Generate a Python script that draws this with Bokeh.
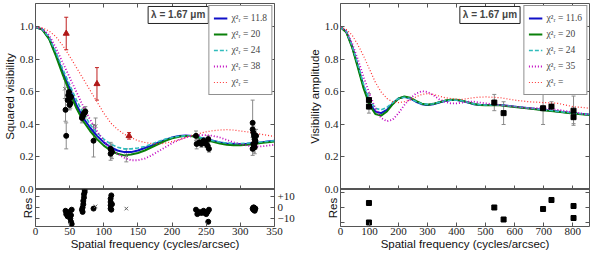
from bokeh.plotting import figure
from bokeh.models import (Range1d, LinearAxis, FixedTicker, CustomJSTickFormatter, Span, Label,
                          Legend, LegendItem, Whisker, TeeHead, ColumnDataSource)
from bokeh.layouts import row, column
from bokeh.embed import file_html
from bokeh.resources import INLINE

# ---------------- data : left panel (squared visibility) ----------------
l_freq = [0, 10, 20, 30, 40, 50, 60, 70, 80, 90, 100, 110, 120, 130, 140, 150, 160, 170, 180,
          190, 200, 210, 220, 230, 240, 250, 260, 270, 280, 290, 300, 310, 320, 330, 340, 350]
l_blue = [1.0, 0.985, 0.93, 0.83, 0.72, 0.62, 0.52, 0.44, 0.38, 0.33, 0.29, 0.26, 0.24, 0.23,
          0.23, 0.24, 0.255, 0.27, 0.29, 0.305, 0.32, 0.33, 0.333, 0.33, 0.32, 0.31, 0.30, 0.29,
          0.283, 0.28, 0.28, 0.282, 0.286, 0.29, 0.295, 0.30]
l_green = [1.0, 0.984, 0.925, 0.82, 0.705, 0.60, 0.50, 0.42, 0.36, 0.31, 0.27, 0.24, 0.22, 0.21,
           0.215, 0.225, 0.24, 0.26, 0.28, 0.30, 0.315, 0.325, 0.33, 0.328, 0.318, 0.305, 0.293,
           0.283, 0.276, 0.272, 0.272, 0.275, 0.28, 0.286, 0.29, 0.295]
l_cyan = [1.0, 0.986, 0.935, 0.845, 0.74, 0.645, 0.55, 0.47, 0.40, 0.35, 0.31, 0.28, 0.26, 0.25,
          0.25, 0.255, 0.265, 0.28, 0.295, 0.31, 0.32, 0.328, 0.33, 0.328, 0.32, 0.31, 0.30,
          0.292, 0.286, 0.283, 0.283, 0.285, 0.288, 0.292, 0.296, 0.30]
l_magenta = [1.0, 0.988, 0.95, 0.87, 0.78, 0.69, 0.60, 0.51, 0.43, 0.36, 0.30, 0.25, 0.22, 0.195,
             0.18, 0.18, 0.19, 0.21, 0.235, 0.26, 0.285, 0.305, 0.32, 0.33, 0.335, 0.335, 0.33,
             0.32, 0.305, 0.29, 0.28, 0.27, 0.265, 0.265, 0.27, 0.275]
l_red = [1.0, 0.995, 0.975, 0.94, 0.885, 0.82, 0.75, 0.68, 0.61, 0.54, 0.47, 0.41, 0.37, 0.34,
         0.32, 0.30, 0.29, 0.283, 0.28, 0.285, 0.295, 0.305, 0.32, 0.335, 0.345, 0.355, 0.362,
         0.366, 0.368, 0.366, 0.36, 0.355, 0.348, 0.34, 0.333, 0.326]
l_chi2 = ["11.8", "20", "24", "38", ""]

l_obs_x = [44, 45, 47, 48, 49, 50, 51, 52, 50, 68, 69, 70, 71, 72, 73, 85, 110, 111, 112, 110,
           235, 236, 240, 243, 246, 248, 250, 252, 253, 254,
           318, 318, 319, 320, 321, 322, 319, 320, 321, 322, 318, 323]
l_obs_y = [0.49, 0.33, 0.55, 0.58, 0.60, 0.56, 0.53, 0.57, 0.52, 0.44, 0.45, 0.46, 0.47, 0.47, 0.48,
           0.30, 0.25, 0.24, 0.23, 0.22,
           0.33, 0.28, 0.29, 0.28, 0.30, 0.29, 0.28, 0.27, 0.31, 0.25,
           0.41, 0.37, 0.35, 0.33, 0.31, 0.29, 0.28, 0.27, 0.26, 0.30, 0.25, 0.33]
l_obs_err = [0.07, 0.08, 0.03, 0.03, 0.03, 0.03, 0.03, 0.03, 0.03, 0.03, 0.03, 0.03, 0.03, 0.03, 0.03,
             0.10, 0.04, 0.04, 0.04, 0.04,
             0.03, 0.03, 0.02, 0.02, 0.02, 0.02, 0.02, 0.02, 0.02, 0.02,
             0.14, 0.05, 0.04, 0.04, 0.04, 0.04, 0.04, 0.04, 0.04, 0.04, 0.04, 0.04]
l_grey_x = [43, 88, 133]
l_grey_y = [0.62, 0.39, 0.21]
l_grey_err = [0.06, 0.05, 0.04]
l_red_x = [45, 90, 137]
l_red_y = [0.96, 0.65, 0.33]
l_red_err = [0.10, 0.10, 0.02]

l_res_x = [44, 45, 46, 47, 50, 51, 52, 53, 52, 53, 68, 69, 70, 70, 71, 71, 72, 72, 69, 85,
           110, 110, 110, 110, 111, 111, 112, 235, 237, 240, 243, 246, 248, 250, 252, 253, 254,
           318, 319, 320, 321, 322, 320, 319, 321]
l_res_y = [-3, -6, -5, -8, -4, -10, -13, -15, -7, -2, -2, 0, 3, 6, 9, 12, 14, 16, -4, -1,
           -1, 2, 5, 8, 11, -2, 3, -2, -6, -4, -5, -3, -5, -6, -4, -13, -2,
           -1, -2, 0, -3, -1, -2, 0, -1]
l_res_grey_x = [88, 133]
l_res_grey_y = [1, -1]

# ---------------- data : right panel (visibility amplitude) ----------------
r_freq = [0, 20, 40, 60, 80, 100, 120, 140, 160, 180, 200, 220, 240, 260, 280, 300, 320, 340,
          360, 380, 400, 420, 440, 460, 480, 500, 550, 600, 650, 700, 750, 800, 860]
r_blue = [1.0, 0.97, 0.88, 0.76, 0.63, 0.53, 0.48, 0.47, 0.49, 0.53, 0.56, 0.57, 0.56, 0.54,
          0.525, 0.52, 0.525, 0.535, 0.545, 0.55, 0.55, 0.545, 0.535, 0.525, 0.52, 0.52, 0.52,
          0.51, 0.50, 0.49, 0.48, 0.47, 0.46]
r_green = [1.0, 0.968, 0.875, 0.75, 0.62, 0.52, 0.465, 0.455, 0.48, 0.525, 0.56, 0.572, 0.565,
           0.545, 0.528, 0.522, 0.527, 0.537, 0.547, 0.552, 0.552, 0.546, 0.536, 0.526, 0.52,
           0.518, 0.518, 0.508, 0.498, 0.488, 0.478, 0.468, 0.458]
r_cyan = [1.0, 0.972, 0.885, 0.77, 0.645, 0.55, 0.50, 0.49, 0.505, 0.535, 0.56, 0.568, 0.56,
          0.542, 0.528, 0.524, 0.528, 0.537, 0.546, 0.55, 0.55, 0.545, 0.536, 0.527, 0.522,
          0.52, 0.52, 0.511, 0.501, 0.491, 0.481, 0.471, 0.461]
r_magenta = [1.0, 0.975, 0.90, 0.80, 0.69, 0.59, 0.50, 0.44, 0.42, 0.43, 0.47, 0.52, 0.56, 0.59,
             0.605, 0.60, 0.58, 0.555, 0.54, 0.53, 0.53, 0.535, 0.54, 0.54, 0.535, 0.53, 0.52,
             0.51, 0.50, 0.50, 0.49, 0.475, 0.46]
r_red = [1.0, 0.985, 0.95, 0.89, 0.82, 0.74, 0.66, 0.60, 0.56, 0.54, 0.535, 0.54, 0.55, 0.57,
         0.585, 0.59, 0.585, 0.575, 0.565, 0.56, 0.555, 0.555, 0.56, 0.565, 0.568, 0.57, 0.565,
         0.55, 0.54, 0.535, 0.53, 0.51, 0.50]
r_chi2 = ["11.6", "20", "24", "35", ""]

r_obs_x = [98, 98, 530, 562, 698, 727, 803, 803]
r_obs_y = [0.55, 0.51, 0.535, 0.47, 0.50, 0.51, 0.485, 0.445]
r_obs_err = [0.04, 0.04, 0.05, 0.07, 0.10, 0.03, 0.09, 0.04]
r_res_x = [98, 98, 530, 562, 698, 727, 803, 803]
r_res_y = [3, -10, 0, -8, -1, 5, 1, -7]

res_tick_labels = ["+10", "0", "\u221210"]
res_tick_vals = [10, 0, -10]
main_ticks = [0.0, 0.2, 0.4, 0.6, 0.8, 1.0]

# ---------------- styling ----------------
YTOP = 1.1446
FRAME = "#555555"
TICKFONT = "Liberation Serif"
LABFONT = "Liberation Sans"
COLORS = ["#1010c8", "#0a800a", "#30bcbc", "#c000c0", "#ff3030"]
DASH = ["solid", "solid", "4 2", "1 2", "1 2"]
WID = [2, 2, 1.6, 1.8, 1.2]
OVER = 6   # the residual canvas overlaps the main canvas by this many pixels


def style_axis(ax):
    ax.major_tick_in = 4
    ax.major_tick_out = 0
    ax.minor_tick_line_color = None
    ax.axis_line_color = None
    ax.major_tick_line_color = FRAME
    ax.major_label_text_font = TICKFONT
    ax.major_label_text_font_size = "11px"
    ax.major_label_text_color = "#222222"


def hidden_axis(ax):
    style_axis(ax)
    ax.formatter = CustomJSTickFormatter(code="return '';")
    ax.major_label_text_font_size = "0px"
    ax.major_label_standoff = 0


def label_style(ax, size="11.5px"):
    ax.axis_label_text_font = LABFONT
    ax.axis_label_text_font_style = "normal"
    ax.axis_label_text_font_size = size
    ax.axis_label_text_color = "#111111"


def make_main(freq, curves, chi2, xmax, xticks, bl, br, ylabel, lam_x):
    p = figure(width=300, height=189 + OVER, x_range=Range1d(0, xmax), y_range=Range1d(0, YTOP),
               min_border_left=bl, min_border_right=br, min_border_top=3,
               min_border_bottom=OVER, toolbar_location=None, output_backend="svg",
               x_axis_location=None, y_axis_location=None)
    p.grid.visible = False
    p.outline_line_color = FRAME
    p.border_fill_alpha = 0

    yl = LinearAxis(ticker=FixedTicker(ticks=main_ticks),
                    formatter=CustomJSTickFormatter(code="return tick.toFixed(1);"),
                    axis_label=ylabel)
    style_axis(yl)
    yl.major_label_standoff = 2
    yl.axis_label_standoff = 1
    label_style(yl)
    p.add_layout(yl, "left")
    for side, tk in (("right", main_ticks), ("above", xticks), ("below", xticks)):
        ax = LinearAxis(ticker=FixedTicker(ticks=tk))
        hidden_axis(ax)
        p.add_layout(ax, side)

    p.add_layout(Span(location=0, dimension="width", line_color=FRAME, line_width=3))

    renderers = []
    for vals, c, d, w in zip(curves, COLORS, DASH, WID):
        renderers.append(p.line(freq, vals, line_color=c, line_dash=d, line_width=w))

    items = [LegendItem(label="\u03c7\u00b2\u1d63 = " + t if t else "\u03c7\u00b2\u1d63 =",
                        renderers=[r]) for t, r in zip(chi2, renderers)]
    leg = Legend(items=items, location="top_right", margin=2, padding=4, spacing=0,
                 label_height=16, glyph_height=16, glyph_width=14, label_standoff=4,
                 label_text_font="Liberation Serif", label_text_font_size="9.5px",
                 border_line_color="#222222", border_line_width=1,
                 background_fill_color="white", background_fill_alpha=1.0)
    p.add_layout(leg)

    p.add_layout(Label(x=lam_x, y=1.074, text="\u03bb = 1.67 \u03bcm",
                       text_font=LABFONT, text_font_style="bold", text_font_size="10px",
                       text_align="center", text_baseline="middle", padding=3,
                       border_line_color="#222222", border_line_width=1,
                       background_fill_color="white"))
    return p


def make_res(xmax, xticks, bl, br, rlo, rhi, show_labels):
    p = figure(width=300, height=65, x_range=Range1d(0, xmax), y_range=Range1d(rlo, rhi),
               min_border_left=bl, min_border_right=br, min_border_top=0, min_border_bottom=28,
               toolbar_location=None, output_backend="svg",
               x_axis_location=None, y_axis_location=None,
               styles={"margin-top": "-%dpx" % OVER})
    p.grid.visible = False
    p.outline_line_color = FRAME
    p.border_fill_alpha = 0
    p.background_fill_alpha = 0

    xb = LinearAxis(ticker=FixedTicker(ticks=xticks),
                    axis_label="Spatial frequency (cycles/arcsec)")
    style_axis(xb)
    xb.major_label_standoff = 1
    xb.axis_label_standoff = 0
    label_style(xb)
    p.add_layout(xb, "below")

    yl = LinearAxis(ticker=FixedTicker(ticks=res_tick_vals), axis_label="Res")
    hidden_axis(yl)
    yl.axis_label_standoff = 2
    label_style(yl)
    p.add_layout(yl, "left")

    yr = LinearAxis(ticker=FixedTicker(ticks=res_tick_vals))
    if show_labels:
        style_axis(yr)
        yr.major_label_standoff = 3
        yr.major_label_overrides = {v: t for v, t in zip(res_tick_vals, res_tick_labels)}
    else:
        hidden_axis(yr)
    p.add_layout(yr, "right")
    return p


def add_errorbars(p, xs, ys, errs, color):
    src = ColumnDataSource(dict(x=xs, upper=[y + e for y, e in zip(ys, errs)],
                                lower=[y - e for y, e in zip(ys, errs)]))
    p.add_layout(Whisker(base="x", upper="upper", lower="lower", source=src, dimension="height",
                         line_color=color, line_width=1,
                         upper_head=TeeHead(size=4, line_color=color, line_width=1),
                         lower_head=TeeHead(size=4, line_color=color, line_width=1)))


# ---------------- left panel ----------------
l_xticks = [0, 50, 100, 150, 200, 250, 300, 350]
ml = make_main(l_freq, [l_blue, l_green, l_cyan, l_magenta, l_red], l_chi2, 350, l_xticks,
               31, 26, "Squared visibility", 209)
add_errorbars(ml, l_obs_x, l_obs_y, l_obs_err, "#8a8a8a")
add_errorbars(ml, l_grey_x, l_grey_y, l_grey_err, "#8a8a8a")
add_errorbars(ml, l_red_x, l_red_y, l_red_err, "#c02020")
ml.scatter(l_grey_x, l_grey_y, marker="x", size=5, line_color="#707070", line_width=1)
ml.scatter(l_obs_x, l_obs_y, marker="circle", size=5, fill_color="black", line_color="black")
ml.scatter(l_red_x, l_red_y, marker="triangle", size=6, fill_color="#b01818", line_color="#b01818")

rl = make_res(350, l_xticks, 31, 26, -17.27, 16.36, True)
rl.scatter(l_res_x, l_res_y, marker="circle", size=5, fill_color="black", line_color="black")
rl.scatter(l_res_grey_x, l_res_grey_y, marker="x", size=5, line_color="#606060", line_width=1)

# ---------------- right panel ----------------
r_xticks = [0, 100, 200, 300, 400, 500, 600, 700, 800]
mr = make_main(r_freq, [r_blue, r_green, r_cyan, r_magenta, r_red], r_chi2, 858, r_xticks,
               40, 11, "Visibility amplitude", 515)
add_errorbars(mr, r_obs_x, r_obs_y, r_obs_err, "#8a8a8a")
mr.scatter(r_obs_x, r_obs_y, marker="square", size=5, fill_color="black", line_color="black")

rr = make_res(858, r_xticks, 40, 11, -12.67, 12.0, False)
rr.scatter(r_res_x, r_res_y, marker="square", size=5, fill_color="black", line_color="black")
for v, t in zip(res_tick_vals, res_tick_labels):
    rr.add_layout(Label(x=869, y=v, text=t, text_font=TICKFONT, text_font_size="11px",
                        text_align="left", text_baseline="middle", text_color="#222222"))

layout = row(column(ml, rl), column(mr, rr))

open("out.html", "w").write(file_html(layout, INLINE))
